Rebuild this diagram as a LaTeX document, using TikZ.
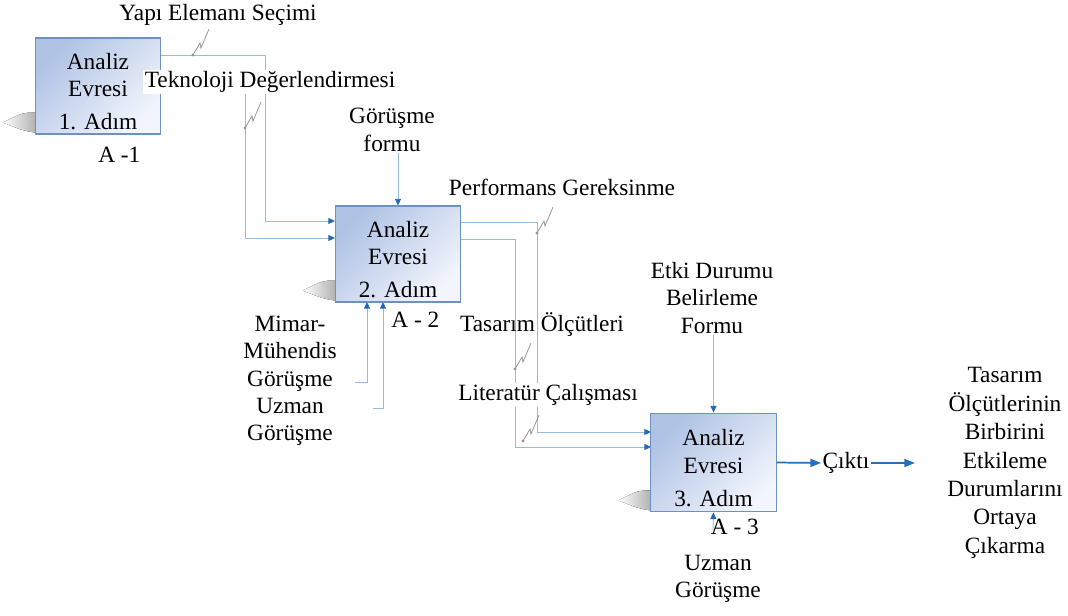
\documentclass[tikz,border=0pt]{standalone}
\usepackage{fontspec}
\setmainfont{Liberation Serif}
\usetikzlibrary{arrows.meta,positioning,backgrounds}

\definecolor{boxedge}{RGB}{110,145,195}
\definecolor{boxtop}{RGB}{175,194,228}
\definecolor{boxbot}{RGB}{242,245,252}
\definecolor{flowblue}{RGB}{150,188,222}
\definecolor{tipblue}{RGB}{35,105,185}
\definecolor{outblue}{RGB}{40,110,185}
\definecolor{squig}{RGB}{150,150,150}

% break mark between a label and its line
\newcommand{\squiggle}[1]{%
  \draw[squigline] (#1) -- ++(7,-12) -- ++(1,5) -- ++(8,-19);
  \fill[squig] (#1) circle (1.2pt);}
% soft shadow at the lower left of a box
\newcommand{\boxshadow}[1]{%
  \fill[boxshade] ([shift={(-32,-12)}]#1.south west) .. controls ([shift={(-12,-22)}]#1.south west) .. ([shift={(0,-22)}]#1.south west)
    -- ([shift={(0,-2)}]#1.south west) .. controls ([shift={(-12,-4)}]#1.south west) .. ([shift={(-32,-12)}]#1.south west) -- cycle;}

\begin{document}
\begin{tikzpicture}[x=0.75pt, y=-0.75pt, font=\fontsize{17.5}{20.5}\selectfont,
  stepbox/.style={draw=boxedge, line width=0.8pt, top color=boxtop, bottom color=boxbot,
    shading angle=45, minimum width=94pt, minimum height=72pt, align=center, inner sep=0pt},
  flow/.style={draw=flowblue, line width=0.7pt},
  flowin/.style={flow, -{Triangle[length=5pt,width=4.5pt,color=tipblue]}},
  outflow/.style={draw=outblue, line width=1.3pt, -{Triangle[length=8pt,width=6pt]}},
  lbl/.style={inner sep=1pt, align=center},
  cover/.style={lbl, fill=white},
  squigline/.style={draw=squig, line width=0.6pt},
  boxshade/.style={left color=white, right color=black!30}]

\useasboundingbox (0,0) rectangle (1068,615);

% the three steps
\node[stepbox] (box1) at (98,86) {\rule{0pt}{20.25pt}Analiz\\Evresi\\[4.25pt]1. Adım};
\node[stepbox] (box2) at (398,254) {\rule{0pt}{20.25pt}Analiz\\Evresi\\[4.25pt]2. Adım};
\node[stepbox, minimum height=74pt] (box3) at (713.5,462.5) {\rule{0pt}{20.25pt}Analiz\\Evresi\\[4.25pt]3. Adım};

\node[lbl, below=8pt of box1.south, xshift=16pt] (a1) {A -1};
\node[lbl, below=6pt of box2.south, xshift=13pt] (a2) {A - 2};
\node[lbl, below=4pt of box3.south, xshift=16pt] (a3) {A - 3};

% labels
\node[lbl] (yapi) at (218,15) {Yapı Elemanı Seçimi};
\node[cover] (tek) at (270,82) {Teknoloji Değerlendirmesi};
\node[lbl] (gor) at (392,130) {Görüşme\\formu};
\node[lbl] (perf) at (562,187) {Performans Gereksinme};
\node[lbl] (tas) at (542,325) {Tasarım Ölçütleri};
\node[cover] (lit) at (548,395) {Literatür Çalışması};
\node[lbl] (mimar) at (290,381) {Mimar-\\Mühendis\\Görüşme\\Uzman\\Görüşme};
\node[lbl] (etki) at (712,298) {Etki Durumu\\Belirleme\\Formu};
\node[lbl] (uzman) at (718,579) {Uzman\\Görüşme};
\node[lbl] (cikti) at (846,463) {Çıktı};
\node[lbl, font=\fontsize{17.5}{21.3}\selectfont] (sonuc) at (1005,463)
  {Tasarım\\Ölçütlerinin\\Birbirini\\Etkileme\\Durumlarını\\Ortaya\\Çıkarma};

% ports and bends
\coordinate (b1out) at (160,55);
\coordinate (k1) at (265,221);
\coordinate (b2in1) at (335,221);
\coordinate (k2) at (245,238);
\coordinate (b2in2) at (335,238);
\coordinate (b2out1) at (461,222);
\coordinate (k3) at (537,432);
\coordinate (b3in1) at (651,432);
\coordinate (b2out2) at (461,239);
\coordinate (k4) at (515,447);
\coordinate (b3in2) at (651,447);
\coordinate (m1) at (355,382);
\coordinate (b2c1) at (367,302);
\coordinate (m2) at (373,408);
\coordinate (b2c2) at (383,302);
\coordinate (u3) at (713,530);
\coordinate (outend) at (915,463);

\begin{pgfonlayer}{background}
  \boxshadow{box1}
  \boxshadow{box2}
  \boxshadow{box3}
  \draw[flowin] (b1out) -| (k1) -- (b2in1);
  \draw[flowin] (tek.south -| k2) -- (k2) -- (b2in2);
  \draw[flowin] (gor.south -| box2.north) -- (box2.north);
  \draw[flowin] (b2out1) -| (k3) -- (b3in1);
  \draw[flowin] (b2out2) -| (k4) -- (b3in2);
  \draw[flowin] (m1) -| (b2c1);
  \draw[flowin] (m2) -| (b2c2);
  \draw[flowin] (etki.south -| box3.north) -- (box3.north);
  \draw[flowin] (u3) -- (box3.south);
\end{pgfonlayer}

\draw[outflow] (box3.east) -- (cikti.west);
\draw[outflow] (cikti.east) -- (outend);

\squiggle{193,55}
\squiggle{245,128}
\squiggle{537,233}
\squiggle{515,369}
\squiggle{523,441}

\end{tikzpicture}
\end{document}
